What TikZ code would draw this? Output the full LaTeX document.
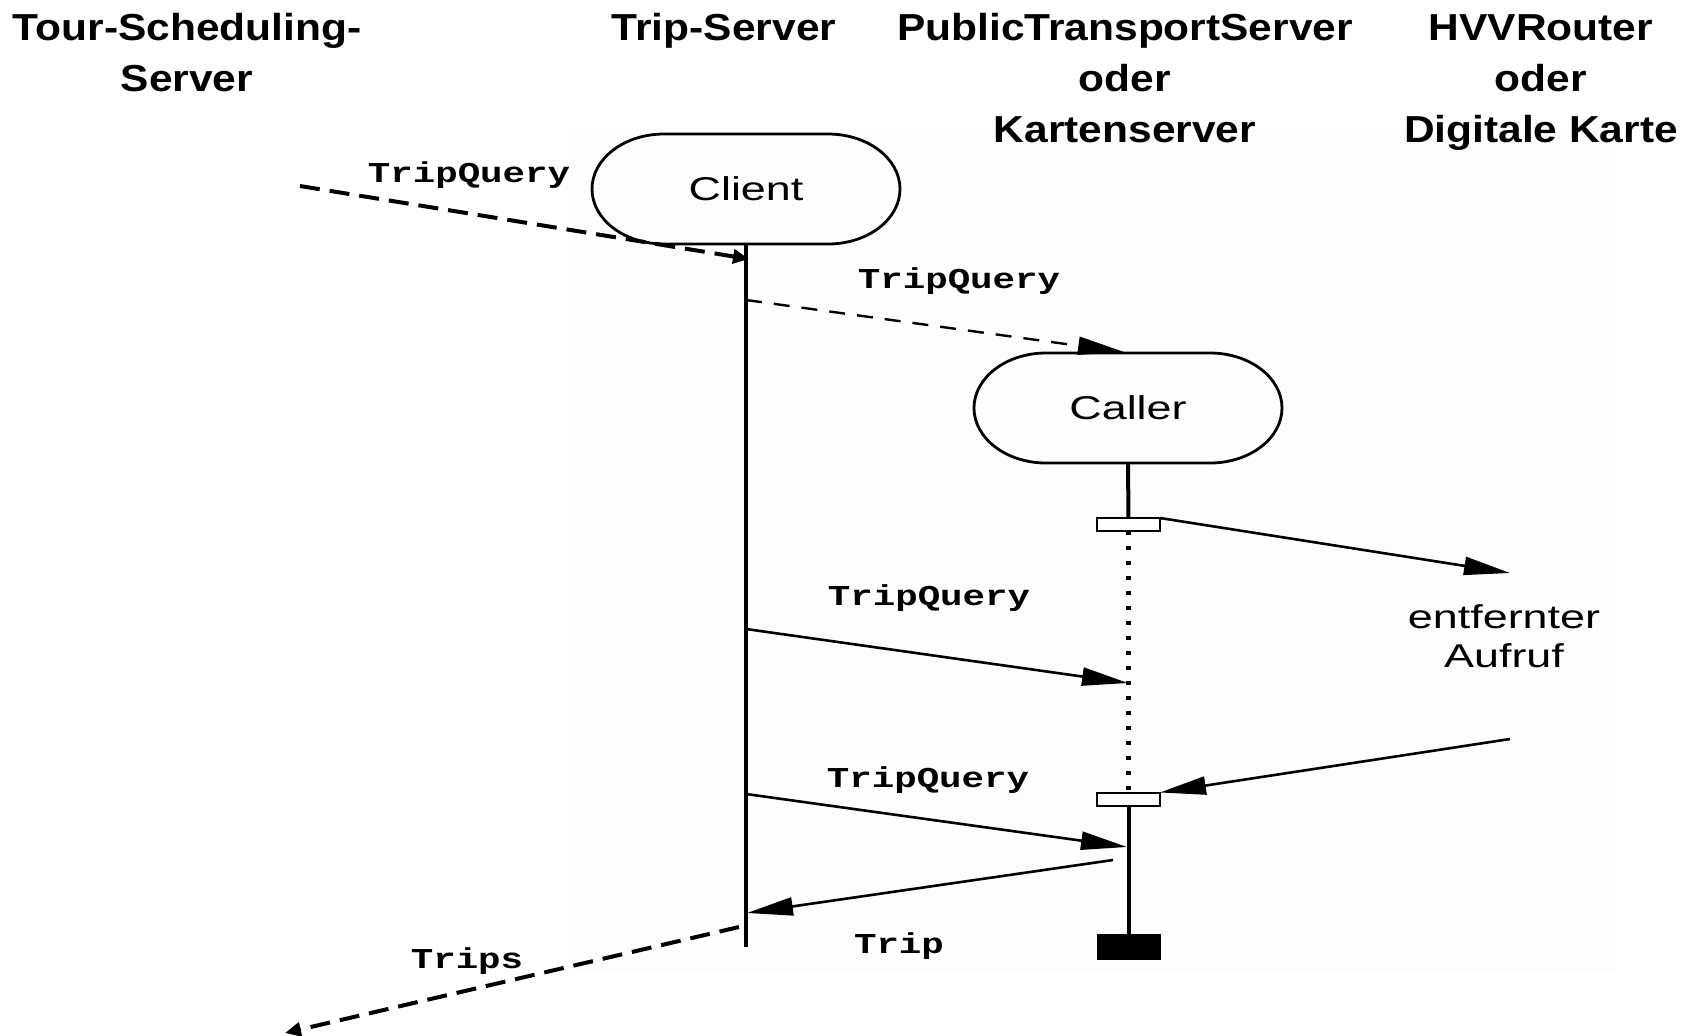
\documentclass[tikz,border=0pt]{standalone}
\usepackage{fontspec}
\newfontfamily\headfont{Liberation Sans}[FakeStretch=1.13]
\newfontfamily\innerfont{Liberation Sans}[FakeStretch=1.36]
\newfontfamily\labfont{Liberation Mono}[FakeStretch=1.30]
\usetikzlibrary{arrows.meta,calc}
\begin{document}
\begin{tikzpicture}[x=0.5pt,y=-0.5pt,
  head/.style={font=\headfont\bfseries\fontsize{18.8pt}{20pt}\selectfont, anchor=base, inner sep=0pt},
  lab/.style={font=\labfont\bfseries\fontsize{14.4pt}{16pt}\selectfont, anchor=base, inner sep=0pt},
  itext/.style={font=\innerfont\fontsize{16.5pt}{18pt}\selectfont, anchor=base, inner sep=0pt},
  capsule/.style={font=\innerfont\fontsize{16.5pt}{18pt}\selectfont, draw=none, outer sep=0pt,
     minimum width=154pt, minimum height=55pt, inner sep=0pt},
  capline/.style={line width=1.4pt},
  life/.style={line width=2pt},
  actbox/.style={draw, line width=1pt, fill=white, outer sep=0pt, inner sep=0pt,
     minimum width=31.5pt, minimum height=6.5pt},
  endbox/.style={draw, fill=black, line width=0.5pt, outer sep=0pt, inner sep=0pt,
     minimum width=31.5pt, minimum height=12.5pt},
  msg/.style={line width=1.3pt, -{Triangle[length=23pt,width=9pt]}},
  dashin/.style={line width=1.2pt, dash pattern=on 8pt off 6pt, -{Triangle[length=23pt,width=9pt]}},
  dashout/.style={line width=2pt, dash pattern=on 10pt off 5pt, -{Triangle[length=8pt,width=7pt]}},
  dotline/.style={line width=2.2pt, dash pattern=on 2.2pt off 5.3pt}
]
\useasboundingbox (0,0) rectangle (1694,1035);
\fill[white] (0,0) rectangle (1694,1035);
\fill[black!0.8] (570,127) rectangle (1617,972);

% headers
\node[head] (h1a) at (187,40) {Tour-Scheduling-};
\node[head] (h1b) at (187,91) {Server};
\node[head] (h2) at (724,40) {Trip-Server};
\node[head] (h3a) at (1125,40) {PublicTransportServer};
\node[head] (h3b) at (1125,91) {oder};
\node[head] (h3c) at (1125,142) {Kartenserver};
\node[head] (h4a) at (1541,40) {HVVRouter};
\node[head] (h4b) at (1541,91) {oder};
\node[head] (h4c) at (1541,142) {Digitale Karte};

% capsules
\node[capsule] (client) at (746,189) {Client};
\node[capsule] (caller) at (1128,408) {Caller};
\foreach \n in {client,caller}{
  \draw[capline] ($(\n.north west)+(72,0)$) -- ($(\n.north east)+(-72,0)$)
     arc[start angle=90,end angle=-90,x radius=36pt,y radius=27.5pt]
     -- ($(\n.south west)+(72,0)$)
     arc[start angle=270,end angle=90,x radius=36pt,y radius=27.5pt] -- cycle;
}

% Trip-Server lifeline
\coordinate (tsend) at (746,947);
\draw[life] (client.south) -- (tsend);

% Caller lifeline
\node[actbox] (r1) at (1128.5,524.5) {};
\node[actbox] (r2) at (1128.5,799) {};
\node[endbox] (fin) at (1128.5,946.5) {};
\draw[life] (caller.south) -- (r1.north);
\draw[dotline] (r1.south) -- (r2.north);
\draw[life] (r2.south) -- (fin.north);

% coordinates
\coordinate (tsin) at (300,186);
\coordinate (q1end) at (749,259);
\coordinate (q2start) at (746,300);
\coordinate (q2end) at (1124,352);
\coordinate (q3start) at (746,629);
\coordinate (q3end) at (1128,683);
\coordinate (q4start) at (746,794);
\coordinate (q4end) at (1127,847);
\coordinate (trstart) at (1113,860);
\coordinate (trend) at (747,913);
\coordinate (tssstart) at (739,927);
\coordinate (tssend) at (285,1033);
\coordinate (remote1) at (1510,573);
\coordinate (remote2) at (1510,739);

% messages
\draw[dashout] (tsin) -- (q1end);
\draw[dashin] (q2start) -- (q2end);
\draw[msg] (r1.north east) -- (remote1);
\draw[msg] (q3start) -- (q3end);
\draw[msg] (remote2) -- (r2.north east);
\draw[msg] (q4start) -- (q4end);
\draw[msg] (trstart) -- (trend);
\draw[dashout] (tssstart) -- (tssend);

% labels
\node[lab] (l1) at (469,182) {TripQuery};
\node[lab] (l2) at (959,288) {TripQuery};
\node[lab] (l3) at (929,605) {TripQuery};
\node[lab] (l4) at (928,787) {TripQuery};
\node[lab] (l5) at (899,953) {Trip};
\node[lab] (l6) at (467,968) {Trips};
\node[itext] (e1) at (1504,628) {entfernter};
\node[itext] (e2) at (1504,667) {Aufruf};
\end{tikzpicture}
\end{document}
